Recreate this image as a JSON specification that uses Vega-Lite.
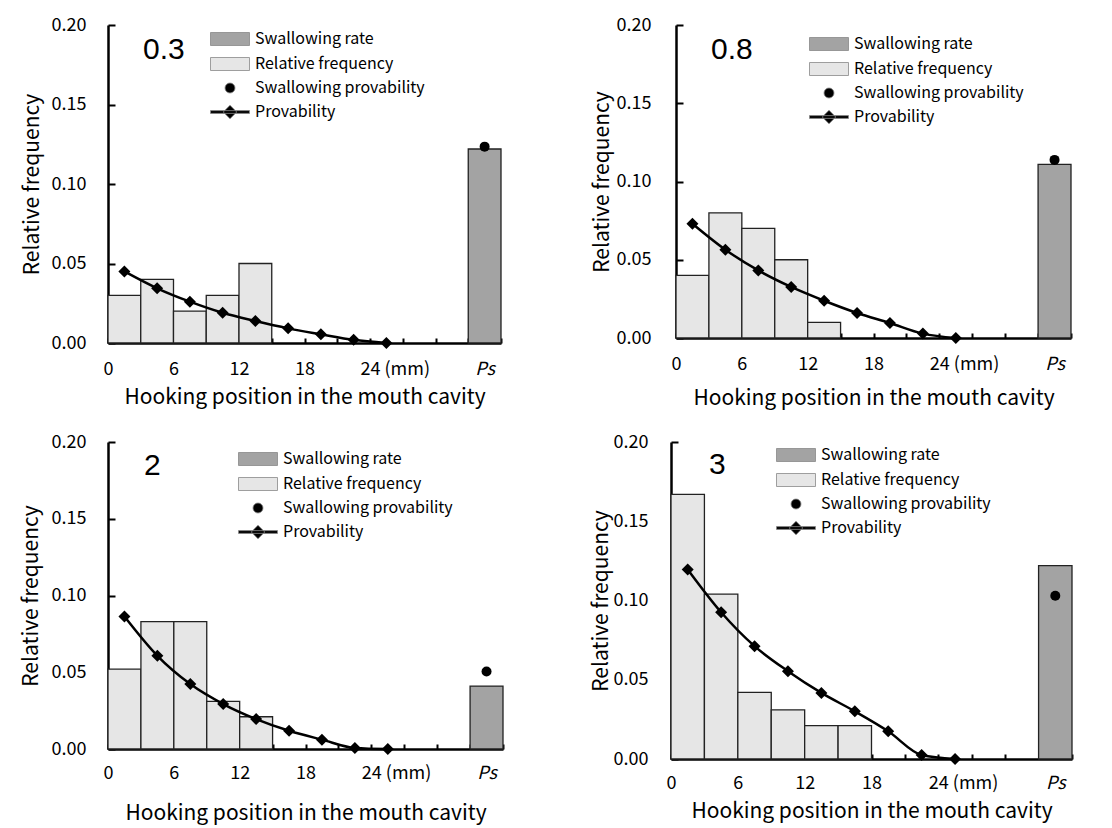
{
  "$schema": "https://vega.github.io/schema/vega-lite/v6.json",
  "background": "white",
  "padding": {"left": 20, "top": 16, "right": 5, "bottom": 5},
  "datasets": {
    "bars": [
      {"panel": "0.3", "x0": 0, "x1": 3, "value": 0.030, "series": "Relative frequency"},
      {"panel": "0.3", "x0": 3, "x1": 6, "value": 0.040, "series": "Relative frequency"},
      {"panel": "0.3", "x0": 6, "x1": 9, "value": 0.020, "series": "Relative frequency"},
      {"panel": "0.3", "x0": 9, "x1": 12, "value": 0.030, "series": "Relative frequency"},
      {"panel": "0.3", "x0": 12, "x1": 15, "value": 0.050, "series": "Relative frequency"},
      {"panel": "0.3", "x0": 33, "x1": 36, "value": 0.122, "series": "Swallowing rate"},
      {"panel": "0.8", "x0": 0, "x1": 3, "value": 0.040, "series": "Relative frequency"},
      {"panel": "0.8", "x0": 3, "x1": 6, "value": 0.080, "series": "Relative frequency"},
      {"panel": "0.8", "x0": 6, "x1": 9, "value": 0.070, "series": "Relative frequency"},
      {"panel": "0.8", "x0": 9, "x1": 12, "value": 0.050, "series": "Relative frequency"},
      {"panel": "0.8", "x0": 12, "x1": 15, "value": 0.010, "series": "Relative frequency"},
      {"panel": "0.8", "x0": 33, "x1": 36, "value": 0.111, "series": "Swallowing rate"},
      {"panel": "2", "x0": 0, "x1": 3, "value": 0.052, "series": "Relative frequency"},
      {"panel": "2", "x0": 3, "x1": 6, "value": 0.083, "series": "Relative frequency"},
      {"panel": "2", "x0": 6, "x1": 9, "value": 0.083, "series": "Relative frequency"},
      {"panel": "2", "x0": 9, "x1": 12, "value": 0.031, "series": "Relative frequency"},
      {"panel": "2", "x0": 12, "x1": 15, "value": 0.021, "series": "Relative frequency"},
      {"panel": "2", "x0": 33, "x1": 36, "value": 0.041, "series": "Swallowing rate"},
      {"panel": "3", "x0": 0, "x1": 3, "value": 0.167, "series": "Relative frequency"},
      {"panel": "3", "x0": 3, "x1": 6, "value": 0.104, "series": "Relative frequency"},
      {"panel": "3", "x0": 6, "x1": 9, "value": 0.042, "series": "Relative frequency"},
      {"panel": "3", "x0": 9, "x1": 12, "value": 0.031, "series": "Relative frequency"},
      {"panel": "3", "x0": 12, "x1": 15, "value": 0.021, "series": "Relative frequency"},
      {"panel": "3", "x0": 15, "x1": 18, "value": 0.021, "series": "Relative frequency"},
      {"panel": "3", "x0": 33, "x1": 36, "value": 0.122, "series": "Swallowing rate"}
    ],
    "prob": [
      {"panel": "0.3", "x": 1.5, "value": 0.045},
      {"panel": "0.3", "x": 4.5, "value": 0.0344},
      {"panel": "0.3", "x": 7.5, "value": 0.026},
      {"panel": "0.3", "x": 10.5, "value": 0.019},
      {"panel": "0.3", "x": 13.5, "value": 0.0138},
      {"panel": "0.3", "x": 16.5, "value": 0.0092},
      {"panel": "0.3", "x": 19.5, "value": 0.0055},
      {"panel": "0.3", "x": 22.5, "value": 0.002},
      {"panel": "0.3", "x": 25.5, "value": 0.0},
      {"panel": "0.8", "x": 1.5, "value": 0.073},
      {"panel": "0.8", "x": 4.5, "value": 0.0564},
      {"panel": "0.8", "x": 7.5, "value": 0.0432},
      {"panel": "0.8", "x": 10.5, "value": 0.0326},
      {"panel": "0.8", "x": 13.5, "value": 0.0238},
      {"panel": "0.8", "x": 16.5, "value": 0.016},
      {"panel": "0.8", "x": 19.5, "value": 0.0096},
      {"panel": "0.8", "x": 22.5, "value": 0.0028},
      {"panel": "0.8", "x": 25.5, "value": 0.0},
      {"panel": "2", "x": 1.5, "value": 0.0863},
      {"panel": "2", "x": 4.5, "value": 0.0607},
      {"panel": "2", "x": 7.5, "value": 0.0423},
      {"panel": "2", "x": 10.5, "value": 0.0293},
      {"panel": "2", "x": 13.5, "value": 0.0195},
      {"panel": "2", "x": 16.5, "value": 0.0119},
      {"panel": "2", "x": 19.5, "value": 0.0061},
      {"panel": "2", "x": 22.5, "value": 0.0007},
      {"panel": "2", "x": 25.5, "value": 0.0},
      {"panel": "3", "x": 1.5, "value": 0.1196},
      {"panel": "3", "x": 4.5, "value": 0.0926},
      {"panel": "3", "x": 7.5, "value": 0.0712},
      {"panel": "3", "x": 10.5, "value": 0.0554},
      {"panel": "3", "x": 13.5, "value": 0.0417},
      {"panel": "3", "x": 16.5, "value": 0.0301},
      {"panel": "3", "x": 19.5, "value": 0.0175},
      {"panel": "3", "x": 22.5, "value": 0.0025},
      {"panel": "3", "x": 25.5, "value": 0.0}
    ],
    "dots": [
      {"panel": "0.3", "x": 34.5, "value": 0.1235, "series": "Swallowing provability"},
      {"panel": "0.8", "x": 34.5, "value": 0.1138, "series": "Swallowing provability"},
      {"panel": "2", "x": 34.5, "value": 0.0505, "series": "Swallowing provability"},
      {"panel": "3", "x": 34.5, "value": 0.103, "series": "Swallowing provability"}
    ]
  },
  "resolve": {"scale": {"color": "independent", "shape": "independent"}, "legend": {"color": "independent", "shape": "independent"}},
  "spacing": 25,
  "vconcat": [
    {
      "resolve": {"scale": {"color": "independent", "shape": "independent"}, "legend": {"color": "independent", "shape": "independent"}},
      "spacing": 89,
      "hconcat": [
        {
          "width": 393, "height": 318,
          "title": {"text": "0.3", "anchor": "start", "frame": "group", "dx": 35, "dy": 53},
          "resolve": {"axis": {"x": "independent", "y": "independent"}},
          "layer": [
            {
              "data": {"name": "bars"},
              "transform": [{"filter": "datum.panel == '0.3' && datum.series == 'Relative frequency'"}],
              "mark": {"type": "bar", "fill": "#e6e6e6", "stroke": "#222", "strokeWidth": 1.3},
              "encoding": {
                "x": {"field": "x0", "type": "quantitative", "scale": {"domain": [0, 36], "nice": false},
                  "axis": {"title": "Hooking position in the mouth cavity", "titlePadding": 8, "ticks": false, "labelPadding": 17,
                    "values": [0, 6, 12, 18, 24, 34.5],
                    "labelExpr": "datum.value == 34.5 ? 'Ps' : datum.value == 24 ? '24 (mm)' : datum.label",
                    "labelFontStyle": {"condition": {"test": "datum.value == 34.5", "value": "italic"}, "value": "normal"},
                    "labelAlign": {"condition": {"test": "datum.value == 24", "value": "left"}, "value": "center"},
                    "labelOffset": {"condition": {"test": "datum.value == 24", "value": -10}, "value": 0}}},
                "x2": {"field": "x1"},
                "y": {"field": "value", "type": "quantitative", "scale": {"domain": [0, 0.2], "nice": false},
                  "axis": {"title": "Relative frequency", "values": [0, 0.05, 0.1, 0.15, 0.2], "format": ".2f", "titlePadding": 9, "ticks": false, "labelPadding": 22}},
                "y2": {"datum": 0}
              }
            },
            {
              "data": {"name": "bars"},
              "transform": [{"filter": "datum.panel == '0.3' && datum.series == 'Swallowing rate'"}],
              "mark": {"type": "bar", "fill": "#a3a3a3", "stroke": "#222", "strokeWidth": 1.3},
              "encoding": {
                "x": {"field": "x0", "type": "quantitative",
                  "axis": {"orient": "top", "offset": -318, "title": null, "labels": false, "domain": false, "tickSize": 5, "values": [0, 3, 6, 9, 12, 15, 18, 21, 24, 27, 30, 33, 36]}},
                "x2": {"field": "x1"},
                "y": {"field": "value", "type": "quantitative",
                  "axis": {"orient": "right", "offset": -393, "title": null, "labels": false, "domain": false, "tickSize": 7, "values": [0, 0.05, 0.1, 0.15, 0.2]}},
                "y2": {"datum": 0}
              }
            },
            {
              "data": {"name": "prob"},
              "transform": [{"filter": "datum.panel == '0.3'"}],
              "mark": {"type": "line", "interpolate": "monotone", "strokeWidth": 2.5, "color": "black"},
              "encoding": {
                "x": {"field": "x", "type": "quantitative", "axis": null},
                "y": {"field": "value", "type": "quantitative", "axis": null}
              }
            },
            {
              "data": {"name": "prob"},
              "transform": [{"filter": "datum.panel == '0.3'"}],
              "mark": {"type": "point", "shape": "diamond", "filled": true, "size": 144, "opacity": 1, "color": "black"},
              "encoding": {
                "x": {"field": "x", "type": "quantitative", "axis": null},
                "y": {"field": "value", "type": "quantitative", "axis": null}
              }
            },
            {
              "data": {"name": "dots"},
              "transform": [{"filter": "datum.panel == '0.3'"}],
              "mark": {"type": "point", "filled": true, "size": 100, "opacity": 1},
              "encoding": {
                "x": {"field": "x", "type": "quantitative", "axis": null},
                "y": {"field": "value", "type": "quantitative", "axis": null},
                "color": {"field": "series", "type": "nominal",
                  "scale": {"domain": ["Swallowing rate", "Relative frequency", "Swallowing provability", "Provability"], "range": ["#a3a3a3", "#e6e6e6", "black", "black"]},
                  "legend": {"title": null, "orient": "none", "legendX": 114, "legendY": 6}},
                "shape": {"field": "series", "type": "nominal",
                  "scale": {"domain": ["Swallowing rate", "Relative frequency", "Swallowing provability", "Provability"],
                    "range": ["M-3.9,-1.3H3.9V1.3H-3.9Z", "M-3.9,-1.3H3.9V1.3H-3.9Z", "circle", "M-3.9,-0.28H3.9V0.28H-3.9Z M0,-1.35L1.35,0L0,1.35L-1.35,0Z"]},
                  "legend": {"title": null, "orient": "none", "legendX": 114, "legendY": 6}}
              }
            }
          ]
        },
        {
          "width": 395, "height": 313,
          "title": {"text": "0.8", "anchor": "start", "frame": "group", "dx": 35, "dy": 53},
          "resolve": {"axis": {"x": "independent", "y": "independent"}},
          "layer": [
            {
              "data": {"name": "bars"},
              "transform": [{"filter": "datum.panel == '0.8' && datum.series == 'Relative frequency'"}],
              "mark": {"type": "bar", "fill": "#e6e6e6", "stroke": "#222", "strokeWidth": 1.3},
              "encoding": {
                "x": {"field": "x0", "type": "quantitative", "scale": {"domain": [0, 36], "nice": false},
                  "axis": {"title": "Hooking position in the mouth cavity", "titlePadding": 14, "ticks": false, "labelPadding": 17,
                    "values": [0, 6, 12, 18, 24, 34.5],
                    "labelExpr": "datum.value == 34.5 ? 'Ps' : datum.value == 24 ? '24 (mm)' : datum.label",
                    "labelFontStyle": {"condition": {"test": "datum.value == 34.5", "value": "italic"}, "value": "normal"},
                    "labelAlign": {"condition": {"test": "datum.value == 24", "value": "left"}, "value": "center"},
                    "labelOffset": {"condition": {"test": "datum.value == 24", "value": -10}, "value": 0}}},
                "x2": {"field": "x1"},
                "y": {"field": "value", "type": "quantitative", "scale": {"domain": [0, 0.2], "nice": false},
                  "axis": {"title": "Relative frequency", "values": [0, 0.05, 0.1, 0.15, 0.2], "format": ".2f", "titlePadding": 4, "ticks": false, "labelPadding": 25}},
                "y2": {"datum": 0}
              }
            },
            {
              "data": {"name": "bars"},
              "transform": [{"filter": "datum.panel == '0.8' && datum.series == 'Swallowing rate'"}],
              "mark": {"type": "bar", "fill": "#a3a3a3", "stroke": "#222", "strokeWidth": 1.3},
              "encoding": {
                "x": {"field": "x0", "type": "quantitative",
                  "axis": {"orient": "top", "offset": -313, "title": null, "labels": false, "domain": false, "tickSize": 5, "values": [0, 3, 6, 9, 12, 15, 18, 21, 24, 27, 30, 33, 36]}},
                "x2": {"field": "x1"},
                "y": {"field": "value", "type": "quantitative",
                  "axis": {"orient": "right", "offset": -395, "title": null, "labels": false, "domain": false, "tickSize": 7, "values": [0, 0.05, 0.1, 0.15, 0.2]}},
                "y2": {"datum": 0}
              }
            },
            {
              "data": {"name": "prob"},
              "transform": [{"filter": "datum.panel == '0.8'"}],
              "mark": {"type": "line", "interpolate": "monotone", "strokeWidth": 2.5, "color": "black"},
              "encoding": {
                "x": {"field": "x", "type": "quantitative", "axis": null},
                "y": {"field": "value", "type": "quantitative", "axis": null}
              }
            },
            {
              "data": {"name": "prob"},
              "transform": [{"filter": "datum.panel == '0.8'"}],
              "mark": {"type": "point", "shape": "diamond", "filled": true, "size": 144, "opacity": 1, "color": "black"},
              "encoding": {
                "x": {"field": "x", "type": "quantitative", "axis": null},
                "y": {"field": "value", "type": "quantitative", "axis": null}
              }
            },
            {
              "data": {"name": "dots"},
              "transform": [{"filter": "datum.panel == '0.8'"}],
              "mark": {"type": "point", "filled": true, "size": 100, "opacity": 1},
              "encoding": {
                "x": {"field": "x", "type": "quantitative", "axis": null},
                "y": {"field": "value", "type": "quantitative", "axis": null},
                "color": {"field": "series", "type": "nominal",
                  "scale": {"domain": ["Swallowing rate", "Relative frequency", "Swallowing provability", "Provability"], "range": ["#a3a3a3", "#e6e6e6", "black", "black"]},
                  "legend": {"title": null, "orient": "none", "legendX": 145, "legendY": 11}},
                "shape": {"field": "series", "type": "nominal",
                  "scale": {"domain": ["Swallowing rate", "Relative frequency", "Swallowing provability", "Provability"],
                    "range": ["M-3.9,-1.3H3.9V1.3H-3.9Z", "M-3.9,-1.3H3.9V1.3H-3.9Z", "circle", "M-3.9,-0.28H3.9V0.28H-3.9Z M0,-1.35L1.35,0L0,1.35L-1.35,0Z"]},
                  "legend": {"title": null, "orient": "none", "legendX": 145, "legendY": 11}}
              }
            }
          ]
        }
      ]
    },
    {
      "resolve": {"scale": {"color": "independent", "shape": "independent"}, "legend": {"color": "independent", "shape": "independent"}},
      "spacing": 86,
      "hconcat": [
        {
          "width": 395, "height": 307,
          "title": {"text": "2", "anchor": "start", "frame": "group", "dx": 36, "dy": 52},
          "resolve": {"axis": {"x": "independent", "y": "independent"}},
          "layer": [
            {
              "data": {"name": "bars"},
              "transform": [{"filter": "datum.panel == '2' && datum.series == 'Relative frequency'"}],
              "mark": {"type": "bar", "fill": "#e6e6e6", "stroke": "#222", "strokeWidth": 1.3},
              "encoding": {
                "x": {"field": "x0", "type": "quantitative", "scale": {"domain": [0, 36], "nice": false},
                  "axis": {"title": "Hooking position in the mouth cavity", "titlePadding": 20, "ticks": false, "labelPadding": 15,
                    "values": [0, 6, 12, 18, 24, 34.5],
                    "labelExpr": "datum.value == 34.5 ? 'Ps' : datum.value == 24 ? '24 (mm)' : datum.label",
                    "labelFontStyle": {"condition": {"test": "datum.value == 34.5", "value": "italic"}, "value": "normal"},
                    "labelAlign": {"condition": {"test": "datum.value == 24", "value": "left"}, "value": "center"},
                    "labelOffset": {"condition": {"test": "datum.value == 24", "value": -10}, "value": 0}}},
                "x2": {"field": "x1"},
                "y": {"field": "value", "type": "quantitative", "scale": {"domain": [0, 0.2], "nice": false},
                  "axis": {"title": "Relative frequency", "values": [0, 0.05, 0.1, 0.15, 0.2], "format": ".2f", "titlePadding": 10, "ticks": false, "labelPadding": 22}},
                "y2": {"datum": 0}
              }
            },
            {
              "data": {"name": "bars"},
              "transform": [{"filter": "datum.panel == '2' && datum.series == 'Swallowing rate'"}],
              "mark": {"type": "bar", "fill": "#a3a3a3", "stroke": "#222", "strokeWidth": 1.3},
              "encoding": {
                "x": {"field": "x0", "type": "quantitative",
                  "axis": {"orient": "top", "offset": -307, "title": null, "labels": false, "domain": false, "tickSize": 5, "values": [0, 3, 6, 9, 12, 15, 18, 21, 24, 27, 30, 33, 36]}},
                "x2": {"field": "x1"},
                "y": {"field": "value", "type": "quantitative",
                  "axis": {"orient": "right", "offset": -395, "title": null, "labels": false, "domain": false, "tickSize": 7, "values": [0, 0.05, 0.1, 0.15, 0.2]}},
                "y2": {"datum": 0}
              }
            },
            {
              "data": {"name": "prob"},
              "transform": [{"filter": "datum.panel == '2'"}],
              "mark": {"type": "line", "interpolate": "monotone", "strokeWidth": 2.5, "color": "black"},
              "encoding": {
                "x": {"field": "x", "type": "quantitative", "axis": null},
                "y": {"field": "value", "type": "quantitative", "axis": null}
              }
            },
            {
              "data": {"name": "prob"},
              "transform": [{"filter": "datum.panel == '2'"}],
              "mark": {"type": "point", "shape": "diamond", "filled": true, "size": 144, "opacity": 1, "color": "black"},
              "encoding": {
                "x": {"field": "x", "type": "quantitative", "axis": null},
                "y": {"field": "value", "type": "quantitative", "axis": null}
              }
            },
            {
              "data": {"name": "dots"},
              "transform": [{"filter": "datum.panel == '2'"}],
              "mark": {"type": "point", "filled": true, "size": 100, "opacity": 1},
              "encoding": {
                "x": {"field": "x", "type": "quantitative", "axis": null},
                "y": {"field": "value", "type": "quantitative", "axis": null},
                "color": {"field": "series", "type": "nominal",
                  "scale": {"domain": ["Swallowing rate", "Relative frequency", "Swallowing provability", "Provability"], "range": ["#a3a3a3", "#e6e6e6", "black", "black"]},
                  "legend": {"title": null, "orient": "none", "legendX": 142, "legendY": 9}},
                "shape": {"field": "series", "type": "nominal",
                  "scale": {"domain": ["Swallowing rate", "Relative frequency", "Swallowing provability", "Provability"],
                    "range": ["M-3.9,-1.3H3.9V1.3H-3.9Z", "M-3.9,-1.3H3.9V1.3H-3.9Z", "circle", "M-3.9,-0.28H3.9V0.28H-3.9Z M0,-1.35L1.35,0L0,1.35L-1.35,0Z"]},
                  "legend": {"title": null, "orient": "none", "legendX": 142, "legendY": 9}}
              }
            }
          ]
        },
        {
          "width": 401, "height": 317,
          "title": {"text": "3", "anchor": "start", "frame": "group", "dx": 38, "dy": 51},
          "resolve": {"axis": {"x": "independent", "y": "independent"}},
          "layer": [
            {
              "data": {"name": "bars"},
              "transform": [{"filter": "datum.panel == '3' && datum.series == 'Relative frequency'"}],
              "mark": {"type": "bar", "fill": "#e6e6e6", "stroke": "#222", "strokeWidth": 1.3},
              "encoding": {
                "x": {"field": "x0", "type": "quantitative", "scale": {"domain": [0, 36], "nice": false},
                  "axis": {"title": "Hooking position in the mouth cavity", "titlePadding": 8, "ticks": false, "labelPadding": 15,
                    "values": [0, 6, 12, 18, 24, 34.5],
                    "labelExpr": "datum.value == 34.5 ? 'Ps' : datum.value == 24 ? '24 (mm)' : datum.label",
                    "labelFontStyle": {"condition": {"test": "datum.value == 34.5", "value": "italic"}, "value": "normal"},
                    "labelAlign": {"condition": {"test": "datum.value == 24", "value": "left"}, "value": "center"},
                    "labelOffset": {"condition": {"test": "datum.value == 24", "value": -10}, "value": 0}}},
                "x2": {"field": "x1"},
                "y": {"field": "value", "type": "quantitative", "scale": {"domain": [0, 0.2], "nice": false},
                  "axis": {"title": "Relative frequency", "values": [0, 0.05, 0.1, 0.15, 0.2], "format": ".2f", "titlePadding": 2, "ticks": false, "labelPadding": 23}},
                "y2": {"datum": 0}
              }
            },
            {
              "data": {"name": "bars"},
              "transform": [{"filter": "datum.panel == '3' && datum.series == 'Swallowing rate'"}],
              "mark": {"type": "bar", "fill": "#a3a3a3", "stroke": "#222", "strokeWidth": 1.3},
              "encoding": {
                "x": {"field": "x0", "type": "quantitative",
                  "axis": {"orient": "top", "offset": -317, "title": null, "labels": false, "domain": false, "tickSize": 5, "values": [0, 3, 6, 9, 12, 15, 18, 21, 24, 27, 30, 33, 36]}},
                "x2": {"field": "x1"},
                "y": {"field": "value", "type": "quantitative",
                  "axis": {"orient": "right", "offset": -401, "title": null, "labels": false, "domain": false, "tickSize": 7, "values": [0, 0.05, 0.1, 0.15, 0.2]}},
                "y2": {"datum": 0}
              }
            },
            {
              "data": {"name": "prob"},
              "transform": [{"filter": "datum.panel == '3'"}],
              "mark": {"type": "line", "interpolate": "monotone", "strokeWidth": 2.5, "color": "black"},
              "encoding": {
                "x": {"field": "x", "type": "quantitative", "axis": null},
                "y": {"field": "value", "type": "quantitative", "axis": null}
              }
            },
            {
              "data": {"name": "prob"},
              "transform": [{"filter": "datum.panel == '3'"}],
              "mark": {"type": "point", "shape": "diamond", "filled": true, "size": 144, "opacity": 1, "color": "black"},
              "encoding": {
                "x": {"field": "x", "type": "quantitative", "axis": null},
                "y": {"field": "value", "type": "quantitative", "axis": null}
              }
            },
            {
              "data": {"name": "dots"},
              "transform": [{"filter": "datum.panel == '3'"}],
              "mark": {"type": "point", "filled": true, "size": 100, "opacity": 1},
              "encoding": {
                "x": {"field": "x", "type": "quantitative", "axis": null},
                "y": {"field": "value", "type": "quantitative", "axis": null},
                "color": {"field": "series", "type": "nominal",
                  "scale": {"domain": ["Swallowing rate", "Relative frequency", "Swallowing provability", "Provability"], "range": ["#a3a3a3", "#e6e6e6", "black", "black"]},
                  "legend": {"title": null, "orient": "none", "legendX": 117, "legendY": 5}},
                "shape": {"field": "series", "type": "nominal",
                  "scale": {"domain": ["Swallowing rate", "Relative frequency", "Swallowing provability", "Provability"],
                    "range": ["M-3.9,-1.3H3.9V1.3H-3.9Z", "M-3.9,-1.3H3.9V1.3H-3.9Z", "circle", "M-3.9,-0.28H3.9V0.28H-3.9Z M0,-1.35L1.35,0L0,1.35L-1.35,0Z"]},
                  "legend": {"title": null, "orient": "none", "legendX": 117, "legendY": 5}}
              }
            }
          ]
        }
      ]
    }
  ],
  "config": {
    "font": "Noto Sans CJK JP",
    "view": {"stroke": null},
    "title": {"fontSize": 30, "fontWeight": "normal", "color": "black", "font": "Liberation Sans"},
    "axis": {
      "grid": false, "domainColor": "black", "domainWidth": 2.5, "tickColor": "black", "tickWidth": 2,
      "labelColor": "black", "titleColor": "black", "labelFontSize": 18, "titleFontSize": 21,
      "titleFontWeight": "normal", "labelFont": "Noto Sans CJK JP", "titleFont": "Noto Sans CJK JP",
      "labelFlush": false, "labelOverlap": false, "labelBound": false, "zindex": 1
    },
    "legend": {
      "symbolSize": 100, "labelFontSize": 16, "labelFont": "Noto Sans CJK JP", "labelColor": "black",
      "labelOffset": 17, "rowPadding": 7, "padding": 0, "labelLimit": 300,
      "symbolStrokeColor": "#888", "symbolStrokeWidth": 0.8
    }
  }
}
